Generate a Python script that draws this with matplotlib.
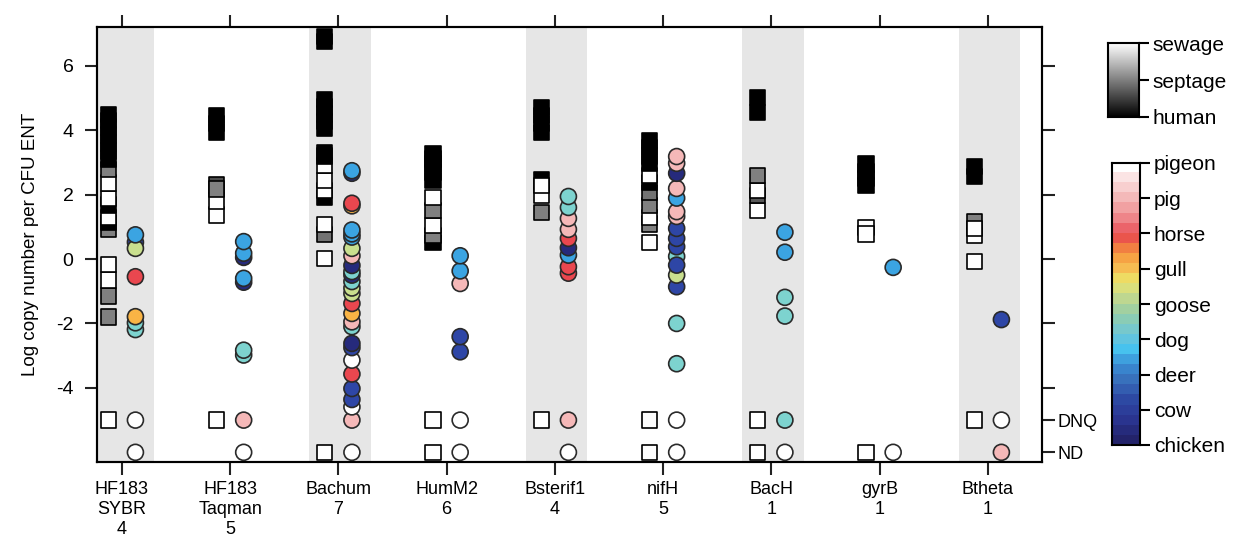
import numpy as np
import matplotlib
matplotlib.use('Agg')
import matplotlib.pyplot as plt
from matplotlib.colors import LinearSegmentedColormap

plt.rcParams['font.family'] = ['Liberation Sans', 'DejaVu Sans']

DNQ = -5
ND = -6

assays = ['HF183\nSYBR\n4', 'HF183\nTaqman\n5', 'Bachum\n7', 'HumM2\n6',
          'Bsterif1\n4', 'nifH\n5', 'BacH\n1', 'gyrB\n1', 'Btheta\n1']

# human-type samples (squares): value, source shade (0 human, 0.5 septage, 1 sewage)
hf183_sybr_sq = [-1.8, -1.15, -0.65, -0.17, 0.925, 1.135, 1.295, 1.675, 1.885, 2.355, 2.785,
                 3.1, 3.35, 3.6, 3.85, 4.1, 4.3, 4.49, DNQ]
hf183_sybr_src = [.5, .5, 1, 1, .5, 0, 1, 0, 1, 1, .5, 0, 0, 0, 0, 0, 0, 0, 1]
hf183_taq_sq = [3.94, 4.2, 4.45, 1.365, 1.8, 2.3, 2.17, DNQ]
hf183_taq_src = [0, 0, 0, 1, 1, .3, .5, 1]
bachum_sq = [6.9, 6.74, 4.04, 4.27, 4.5, 4.72, 4.94, 1.9, 2.125, 2.435, 2.905, 3.2, 3.3,
             0.77, 1.075, 0.02, ND]
bachum_src = [0, 0, 0, 0, 0, 0, 0, 0, 1, 1, 1, 0, 0, .45, 1, 1, 1]
humm2_sq = [0.515, 0.735, 1.035, 1.505, 1.915, 2.44, 2.7, 2.95, 3.1, 3.26, DNQ, ND]
humm2_src = [0, .5, 1, .5, 1, 0, 0, 0, 0, 0, 1, 1]
bsterif1_sq = [3.935, 4.2, 4.45, 4.7, 2.45, 1.445, 1.975, 2.285, DNQ]
bsterif1_src = [0, 0, 0, 0, 0, .5, 1, 1, 1]
nifh_sq = [0.515, 1.085, 1.295, 1.655, 2.065, 2.375, 2.585, 2.955, 3.2, 3.45, 3.675, DNQ, ND]
nifh_src = [1, .5, 1, .5, .45, 0, 1, 0, 0, 0, 0, 1, 1]
bach_sq = [4.555, 5.01, 1.505, 1.975, 2.115, 2.585, DNQ, ND]
bach_src = [0, 0, 1, .35, 1, .5, 1, 1]
gyrb_sq = [2.275, 2.5, 2.72, 2.945, 0.975, 0.775, ND]
gyrb_src = [0, 0, 0, 0, 1, 1, 1]
btheta_sq = [2.565, 2.865, 1.165, 0.725, 0.95, -0.085, DNQ]
btheta_src = [0, 0, .5, 1, 1, 1, 1]

# animal samples (circles)
hf183_sybr_pt = [ND, DNQ, -2.19, -1.98, -1.79, -0.55, 0.52, 0.33, 0.75]
hf183_sybr_an = ['pigeon', 'pigeon', 'dog', 'dog', 'gull', 'horse', 'cow', 'goose', 'deer']
hf183_taq_pt = [ND, DNQ, -2.98, -2.83, -0.72, -0.6, 0.05, 0.18, 0.54]
hf183_taq_an = ['pigeon', 'pig', 'dog', 'dog', 'chicken', 'deer', 'chicken', 'deer', 'deer']
bachum_pt = [ND, DNQ, -4.59, -4.36, -4.02, -3.57, -3.14, -2.75, -2.62, -2.1, -1.95, -1.69,
             -1.38, -1.07, -0.9, -0.7, -0.5, -0.39, -0.2, 0.1, 0.33, 0.68, 0.78, 0.9,
             1.65, 1.73, 2.66, 2.74]
bachum_an = ['pigeon', 'pig', 'pigeon', 'cow', 'cow', 'horse', 'pigeon', 'cow', 'chicken',
             'dog', 'pig', 'gull', 'horse', 'goose', 'goose', 'dog', 'chicken', 'dog',
             'chicken', 'pig', 'goose', 'deer', 'deer', 'deer', 'gull', 'horse', 'chicken',
             'deer']
humm2_pt = [ND, DNQ, -2.88, -2.41, -0.76, -0.37, 0.1]
humm2_an = ['pigeon', 'pigeon', 'cow', 'cow', 'pig', 'deer', 'deer']
bsterif1_pt = [ND, DNQ, -0.44, -0.24, 0.12, 0.35, 0.64, 0.92, 1.26, 1.6, 1.94]
bsterif1_an = ['pigeon', 'pig', 'horse', 'horse', 'deer', 'chicken', 'horse', 'pig', 'pig',
               'dog', 'dog']
nifh_pt = [ND, DNQ, -3.25, -2.0, -0.86, -0.5, 0.08, -0.19, 0.38, 0.64, 0.95, 1.32, 1.47,
           1.89, 2.19, 2.66, 2.97, 3.18]
nifh_an = ['pigeon', 'pigeon', 'dog', 'dog', 'cow', 'goose', 'dog', 'cow', 'cow', 'cow',
           'cow', 'pig', 'pig', 'deer', 'pig', 'chicken', 'pig', 'pig']
bach_pt = [ND, DNQ, -1.77, -1.19, 0.21, 0.83]
bach_an = ['pigeon', 'dog', 'dog', 'dog', 'deer', 'deer']
gyrb_pt = [ND, -0.26]
gyrb_an = ['pigeon', 'deer']
btheta_pt = [ND, DNQ, -1.88]
btheta_an = ['pig', 'pigeon', 'cow']

animals = ['chicken', 'cow', 'deer', 'dog', 'goose', 'gull', 'horse', 'pig', 'pigeon']
animal_colors = ['#262a7c', '#2e46a6', '#3ba4e2', '#7dd3cf', '#c9df8e', '#f9b445',
                 '#e9474f', '#f5b8b8', '#ffffff']
acol = dict(zip(animals, animal_colors))

squares = [(hf183_sybr_sq, hf183_sybr_src), (hf183_taq_sq, hf183_taq_src),
           (bachum_sq, bachum_src), (humm2_sq, humm2_src), (bsterif1_sq, bsterif1_src),
           (nifh_sq, nifh_src), (bach_sq, bach_src), (gyrb_sq, gyrb_src),
           (btheta_sq, btheta_src)]
circles = [(hf183_sybr_pt, hf183_sybr_an), (hf183_taq_pt, hf183_taq_an),
           (bachum_pt, bachum_an), (humm2_pt, humm2_an), (bsterif1_pt, bsterif1_an),
           (nifh_pt, nifh_an), (bach_pt, bach_an), (gyrb_pt, gyrb_an),
           (btheta_pt, btheta_an)]

fig = plt.figure(figsize=(12.39, 5.46), dpi=100)
ax = fig.add_axes([97 / 1239, 84 / 546, 945 / 1239, 435 / 546])

xpos = np.arange(1, len(assays) + 1)
for i, x in enumerate(xpos):
    if i % 2 == 0:
        ax.axvspan(x - 0.27, x + 0.3, color='#e6e6e6', lw=0, zorder=0)

for x, (vals, src) in zip(xpos, squares):
    ax.scatter(np.full(len(vals), x - 0.125), vals, marker='s', s=11 ** 2,
               c=[str(s) for s in src], edgecolors='black', linewidths=1.2, zorder=2)
for x, (vals, an) in zip(xpos, circles):
    ax.scatter(np.full(len(vals), x + 0.125), vals, marker='o', s=11.5 ** 2,
               c=[acol[a] for a in an], edgecolors='#2a2a2a', linewidths=1.2, zorder=3)

ax.set_xlim(0.77, 9.5)
ax.set_ylim(-6.3, 7.2)
ax.set_xticks(xpos)
ax.set_xticklabels(assays, fontsize=13)
ax.set_yticks([6, 4, 2, 0, -2, -4])
ax.set_yticklabels(['6', '4', '2', '0', '-2', '-4'], fontsize=14)
ax.tick_params(axis='both', direction='out', length=9, width=1.5, color='#222222')
ax.tick_params(axis='x', top=True, pad=5)
ax.tick_params(axis='y', pad=8)
ax.set_ylabel('Log copy number per CFU ENT', fontsize=13.5, labelpad=12)
for sp in ax.spines.values():
    sp.set_linewidth(1.5)

ax2 = ax.twinx()
ax2.set_ylim(ax.get_ylim())
ax2.set_yticks([6, 4, 2, 0, -2, -4, DNQ, ND])
ax2.set_yticklabels(['', '', '', '', '', '', 'DNQ', 'ND'], fontsize=13)
ax2.tick_params(axis='y', direction='out', length=9, width=1.5, pad=2, color='#222222')
for sp in ax2.spines.values():
    sp.set_linewidth(1.5)

# source colour bar
axg = fig.add_axes([1108 / 1239, (546 - 117) / 546, 31 / 1239, 74 / 546])
axg.imshow(np.linspace(0, 1, 256)[:, None], aspect='auto', cmap='gray', origin='lower',
           extent=[0, 1, 0, 1])
axg.set_xticks([])
axg.yaxis.tick_right()
axg.set_yticks([0, 0.5, 1])
axg.set_yticklabels(['human', 'septage', 'sewage'], fontsize=15)
axg.tick_params(axis='y', length=7, width=1.5, pad=3)
for sp in axg.spines.values():
    sp.set_linewidth(1.5)

# animal colour bar
anchors = [(0.0, '#23236a'), (0.078, '#2b3592'), (0.15, '#2e4aa4'), (0.22, '#3870bc'),
           (0.28, '#3b90d6'), (0.33, '#45c2f0'), (0.39, '#6fc6d8'), (0.44, '#88ccb8'),
           (0.49, '#a8d29c'), (0.54, '#d0dc88'), (0.58, '#ece66a'), (0.63, '#f7bc52'),
           (0.68, '#f69a40'), (0.72, '#ef6e44'), (0.75, '#e84a50'), (0.80, '#ee7a80'),
           (0.86, '#f2a8a8'), (0.92, '#f8cccc'), (0.97, '#fce8e8'), (1.0, '#ffffff')]
animal_cmap = LinearSegmentedColormap.from_list('animal', anchors).resampled(28)
axa = fig.add_axes([1112 / 1239, (546 - 445) / 546, 28 / 1239, 282 / 546])
axa.imshow(np.linspace(0, 1, 28)[:, None], aspect='auto', cmap=animal_cmap, origin='lower',
           extent=[0, 1, 0, 8])
axa.set_xticks([])
axa.yaxis.tick_right()
axa.set_yticks(range(len(animals)))
axa.set_yticklabels(animals, fontsize=15)
axa.tick_params(axis='y', length=7, width=1.5, pad=3)
for sp in axa.spines.values():
    sp.set_linewidth(1.5)

fig.savefig('out.png', dpi=100)
